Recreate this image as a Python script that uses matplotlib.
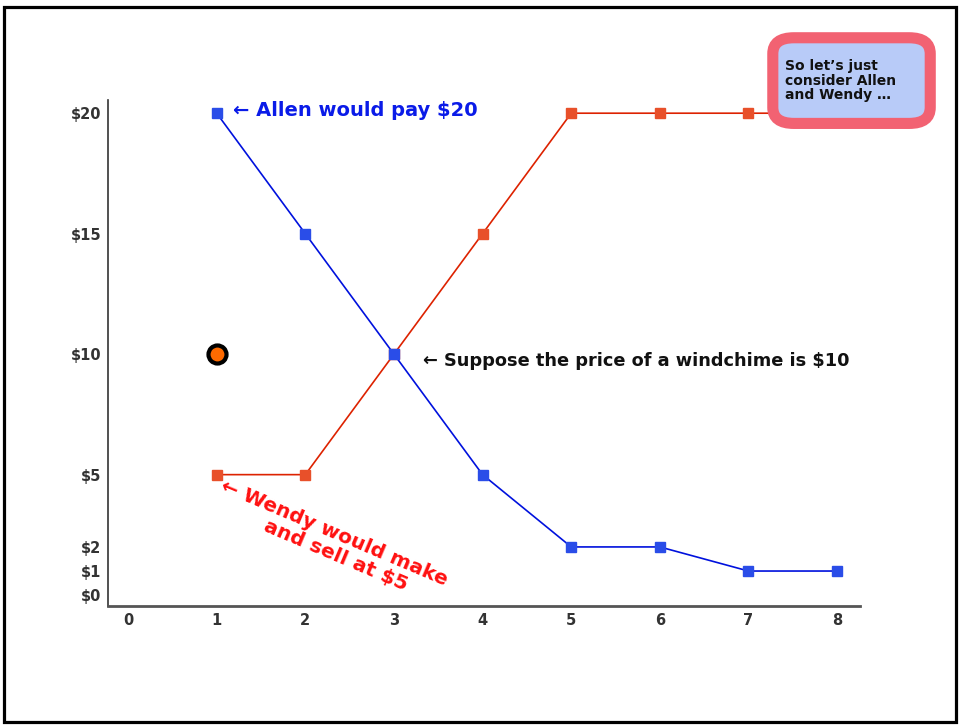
import matplotlib
matplotlib.use("Agg")
import matplotlib.pyplot as plt
from matplotlib.patches import Rectangle, FancyBboxPatch

plt.rcParams['font.family'] = ['DejaVu Sans']

# data
quantity = [1, 2, 3, 4, 5, 6, 7, 8]
buyers = [20, 15, 10, 5, 2, 2, 1, 1]      # Allen ... willingness to pay
sellers = [5, 5, 10, 15, 20, 20, 20, 20]  # Wendy ... cost
x_ticks = [0, 1, 2, 3, 4, 5, 6, 7, 8]
y_ticks = [0, 1, 2, 5, 10, 15, 20]
y_labels = ['$0', '$1', '$2', '$5', '$10', '$15', '$20']
price_point = (1, 10)

fig = plt.figure(figsize=(9.6, 7.26), dpi=100)
ax = fig.add_axes([0.1125, 0.165, 0.7835, 0.697])

ax.plot(quantity, sellers, color='#dd2200', lw=1.2, zorder=2)
ax.plot(quantity, buyers, color='#0011dd', lw=1.2, zorder=3)
ax.plot(quantity, sellers, 's', color='#e8502a', ms=7, zorder=2)
ax.plot(quantity, buyers, 's', color='#2a4de8', ms=7, zorder=3)
ax.plot(*price_point, 'o', color='#ff6a00', mec='black', mew=3, ms=13, zorder=4)

ax.set_xlim(-0.226, 8.26)
ax.set_ylim(-0.46, 20.54)
ax.set_xticks(x_ticks)
ax.set_yticks(y_ticks)
ax.set_yticklabels(y_labels)
ax.tick_params(length=0, labelsize=10.5, labelcolor='#333333', pad=5)
for lab in ax.get_xticklabels() + ax.get_yticklabels():
    lab.set_fontweight('bold')
for s in ['top', 'right']:
    ax.spines[s].set_visible(False)
ax.spines['left'].set_color('#333333')
ax.spines['left'].set_linewidth(1.2)
ax.spines['bottom'].set_color('#555555')
ax.spines['bottom'].set_linewidth(2)

# annotations
ax.text(1.18, 20.1, '← Allen would pay $20', color='#0a1be8', fontsize=14,
        fontweight='bold', va='center', ha='left')
ax.text(3.33, 9.7, '← Suppose the price of a windchime is $10', color='#111111',
        fontsize=12.8, fontweight='bold', va='center', ha='left')
ax.text(2.28, 2.2, '← Wendy would make\n   and sell at $5', color='#ff1010',
        fontsize=14.5, fontweight='bold', va='center', ha='center',
        rotation=-23, rotation_mode='anchor', linespacing=1.05)

# callout box
box = FancyBboxPatch((0.805, 0.830), 0.164, 0.118,
                     boxstyle='round,pad=0.0,rounding_size=0.022',
                     transform=fig.transFigure, facecolor='#b8cbf8',
                     edgecolor='#f26272', linewidth=8, zorder=5)
fig.patches.append(box)
fig.text(0.818, 0.889, "So let\u2019s just\nconsider Allen\nand Wendy \u2026",
         fontsize=10, fontweight='bold', color='#111111', va='center',
         ha='left', linespacing=1.05, zorder=6)

# slide frame
frame = Rectangle((0.004, 0.006), 0.992, 0.985, transform=fig.transFigure,
                  fill=False, edgecolor='black', linewidth=2.3, zorder=10)
fig.patches.append(frame)

fig.savefig('out.png', dpi=100)
